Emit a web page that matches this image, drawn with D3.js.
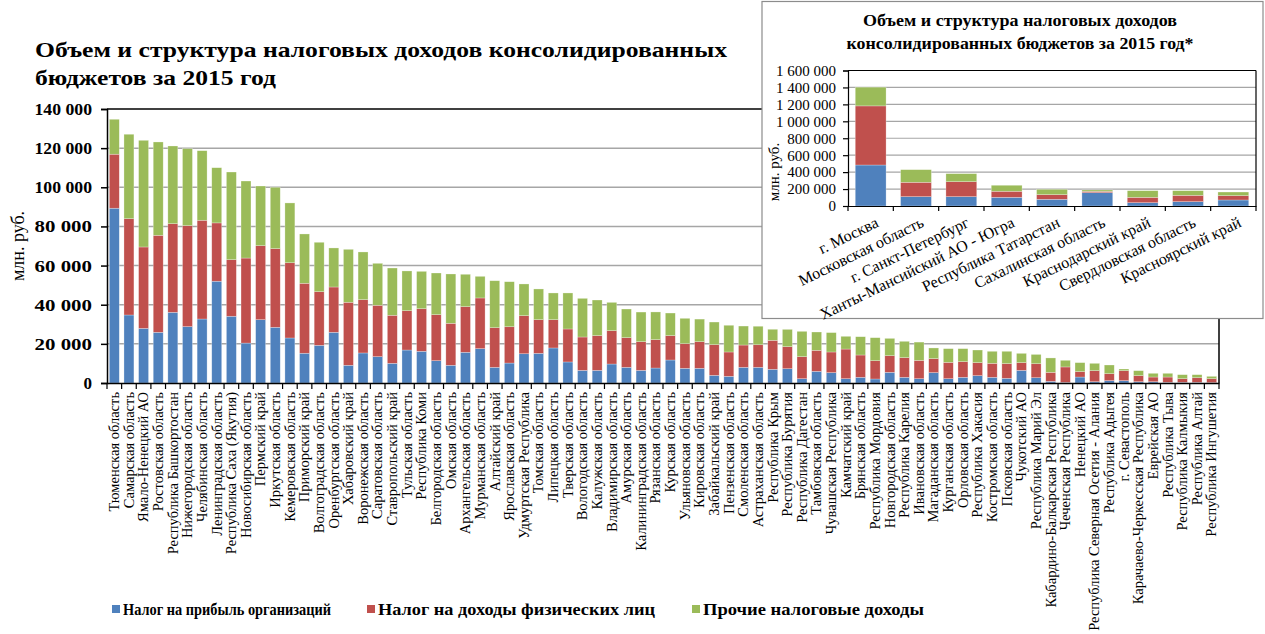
<!DOCTYPE html>
<html>
<head>
<meta charset="utf-8">
<script src="https://cdn.jsdelivr.net/npm/d3@7/dist/d3.min.js"></script>
<style>
  html, body { margin: 0; padding: 0; background: #fff; }
  svg { display: block; }
</style>
</head>
<body>
<svg id="chart" width="1265" height="634"></svg>
<script>
// ---------- Main chart data (млн. руб.) ----------
const categories = [
  "Тюменская область","Самарская область","Ямало-Ненецкий АО","Ростовская область",
  "Республика Башкортостан","Нижегородская область","Челябинская область","Ленинградская область",
  "Республика Саха (Якутия)","Новосибирская область","Пермский край","Иркутская область",
  "Кемеровская область","Приморский край","Волгоградская область","Оренбургская область",
  "Хабаровский край","Воронежская область","Саратовская область","Ставропольский край",
  "Тульская область","Республика Коми","Белгородская область","Омская область",
  "Архангельская область","Мурманская область","Алтайский край","Ярославская область",
  "Удмуртская Республика","Томская область","Липецкая область","Тверская область",
  "Вологодская область","Калужская область","Владимирская область","Амурская область",
  "Калининградская область","Рязанская область","Курская область","Ульяновская область",
  "Кировская область","Забайкальский край","Пензенская область","Смоленская область",
  "Астраханская область","Республика Крым","Республика Бурятия","Республика Дагестан",
  "Тамбовская область","Чувашская Республика","Камчатский край","Брянская область",
  "Республика Мордовия","Новгородская область","Республика Карелия","Ивановская область",
  "Магаданская область","Курганская область","Орловская область","Республика  Хакасия",
  "Костромская область","Псковская область","Чукотский АО","Республика Марий Эл",
  "Кабардино-Балкарская Республика","Чеченская Республика","Ненецкий АО",
  "Республика Северная  Осетия - Алания","Республика Адыгея","г. Севастополь",
  "Карачаево-Черкесская Республика","Еврейская АО","Республика Тыва","Республика Калмыкия",
  "Республика Алтай","Республика Ингушетия"
];
const profitTax = [
  89300,34750,27900,25900,36100,28800,32700,52000,34100,20400,32350,28450,
  23000,15200,19250,25900,9050,15350,13450,10050,16850,16200,11400,9050,
  15700,17550,8000,10200,14950,15150,17900,10750,6450,6450,9700,8000,
  6450,7650,11750,7500,7500,3900,3400,8000,8000,7000,7300,2200,
  5950,5300,2200,2900,2050,5450,2900,2200,5300,2200,2900,3750,
  2900,2400,6450,2700,850,300,3050,650,1200,1200,650,650,350,350,350,200
];
const incomeTax = [
  27600,49200,41600,49550,45300,51600,50450,29800,28900,43450,37800,40200,
  38450,35750,27400,23150,32200,27250,26250,24550,20100,21750,23500,21450,
  23300,25900,20250,18550,19450,17200,14450,16850,17050,17750,17050,15150,
  14650,14500,12450,12600,13600,15700,12450,11400,11550,14800,11250,11250,
  10750,10550,15150,11400,9350,8500,10050,9350,7150,8350,8000,6650,
  7150,7500,3950,7150,4600,7900,2750,5650,3550,5100,3100,2400,2700,1850,2350,2000
];
const otherTax = [
  17850,43150,54500,47700,39700,39350,35550,28200,44800,39350,30500,31350,
  30550,25200,25250,19950,27050,24350,21450,24150,20300,19100,21300,25200,
  16550,11050,24000,23000,16200,15700,13650,18400,19750,18200,14450,14650,
  15150,14150,11550,12950,11550,11550,13650,9700,9450,5650,8850,12950,
  9350,9900,6500,9350,11750,8850,8350,9350,5450,7000,6650,6450,
  6150,6300,4750,4750,7350,3400,4600,3750,4450,850,2550,1900,1900,2050,1550,1200
];
const yTicks = [0,20000,40000,60000,80000,100000,120000,140000];
const seriesNames = ["Налог на прибыль организаций","Налог на доходы физических лиц","Прочие налоговые доходы"];
const seriesColors = ["#4F81BD","#C0504D","#9BBB59"];

// ---------- Inset data ----------
const insetCategories = [
  "г. Москва","Московская область","г. Санкт-Петербург","Ханты-Мансийский АО - Югра",
  "Республика Татарстан","Сахалинская область","Краснодарский край","Свердловская область",
  "Красноярский край"
];
const insetProfit = [484000,110000,110000,102000,79000,157000,39000,51000,71000];
const insetIncome = [698000,170000,177000,72000,55000,16000,63000,75000,51000];
const insetOther  = [221000,149000,95000,71000,63000,16000,79000,55000,43000];
const insetTicks = [0,200000,400000,600000,800000,1000000,1200000,1400000,1600000];

// ---------- Helpers ----------
const SERIF = "'Liberation Serif', Tinos, 'Times New Roman', 'DejaVu Serif', 'Noto Serif', serif";
const fmt = v => d3.format(",")(v).replace(/,/g, "\u00A0");
const svg = d3.select("#chart").style("font-family", SERIF);
svg.append("rect").attr("width",1265).attr("height",634).attr("fill","#fff");

function stackRows(cats, a, b, c) {
  return cats.map((k,i)=>({key:k, s0:a[i], s1:b[i], s2:c[i]}));
}
const stack = d3.stack().keys(["s0","s1","s2"]);

// ---------- Main chart ----------
const M = {left:107, right:1219, top:109, bottom:383};
const x = d3.scaleBand().domain(categories).range([M.left, M.right]).paddingInner(0.32).paddingOuter(0.16);
const y = d3.scaleLinear().domain([0,140000]).range([M.bottom, M.top]);

const main = svg.append("g");
main.append("g").selectAll("line").data(yTicks.filter(t=>t>0 && t<140000)).join("line")
  .attr("x1",M.left).attr("x2",M.right)
  .attr("y1",d=>y(d)).attr("y2",d=>y(d))
  .attr("stroke","#a6a6a6").attr("stroke-width",1.5);

const mainStack = stack(stackRows(categories, profitTax, incomeTax, otherTax));
main.append("g").selectAll("g").data(mainStack).join("g")
  .attr("fill",(d,i)=>seriesColors[i])
  .selectAll("rect").data(d=>d).join("rect")
  .attr("x",d=>x(d.data.key)).attr("width",x.bandwidth())
  .attr("y",d=>y(d[1])).attr("height",d=>Math.max(0,y(d[0])-y(d[1])))
  .attr("stroke","#ffffff").attr("stroke-opacity",0.45).attr("stroke-width",0.6);

main.append("line").attr("x1",M.left).attr("x2",M.right).attr("y1",M.top).attr("y2",M.top)
  .attr("stroke","#000").attr("stroke-width",1.5);
main.append("line").attr("x1",M.right).attr("x2",M.right).attr("y1",M.top).attr("y2",M.bottom)
  .attr("stroke","#000").attr("stroke-width",1.5);

const yAxis = main.append("g").attr("transform",`translate(${M.left},0)`)
  .call(d3.axisLeft(y).tickValues(yTicks).tickSize(6).tickPadding(9).tickFormat(fmt));
yAxis.style("font-family", SERIF);
yAxis.selectAll("path, line").attr("stroke","#000").attr("stroke-width",1.5);
yAxis.selectAll("text").attr("font-weight","bold").attr("font-size",17).attr("fill","#000")
  .attr("textLength",d=>d===0?null:57.5).attr("lengthAdjust","spacingAndGlyphs");

const xAxis = main.append("g").attr("transform",`translate(0,${M.bottom})`)
  .call(d3.axisBottom(x).tickSize(0).tickSizeOuter(0));
xAxis.style("font-family", SERIF);
xAxis.select("path").attr("stroke","#000").attr("stroke-width",1.5);
xAxis.selectAll("text")
  .attr("transform","rotate(-90)").attr("x",-9).attr("y",0).attr("dy","0.33em")
  .attr("text-anchor","end").attr("font-size",14.5).attr("fill","#000");
const step = x.step();
xAxis.append("g").selectAll("line").data(d3.range(categories.length+1)).join("line")
  .attr("x1",i=>M.left + i*step).attr("x2",i=>M.left + i*step)
  .attr("y1",0).attr("y2",6).attr("stroke","#000").attr("stroke-width",1.2);

svg.append("text").attr("transform",`translate(24,246) rotate(-90)`)
  .attr("text-anchor","middle").attr("font-size",18).text("млн. руб.");

const titleLines = ["Объем и структура налоговых доходов консолидированных","бюджетов за 2015 год"];
const titleLens = [692, 241];
svg.append("g").selectAll("text").data(titleLines).join("text")
  .attr("x",35).attr("y",(d,i)=>57+i*28).attr("font-weight","bold").attr("font-size",22)
  .attr("textLength",(d,i)=>titleLens[i]).attr("lengthAdjust","spacingAndGlyphs").text(d=>d);

// legend
const legendX = [112, 367, 692];
const legendLens = [208, 277, 221];
const lg = svg.append("g").selectAll("g").data(seriesNames).join("g")
  .attr("transform",(d,i)=>`translate(${legendX[i]},0)`);
lg.append("rect").attr("x",0).attr("y",605).attr("width",8).attr("height",8)
  .attr("fill",(d,i)=>seriesColors[i]);
lg.append("text").attr("x",11).attr("y",615).attr("font-weight","bold").attr("font-size",16)
  .attr("textLength",(d,i)=>legendLens[i]).attr("lengthAdjust","spacingAndGlyphs").text(d=>d);

// ---------- Inset ----------
const inset = svg.append("g");
inset.append("rect").attr("x",762).attr("y",1.5).attr("width",501).attr("height",317)
  .attr("fill","#fff").attr("stroke","#8c8c8c").attr("stroke-width",1.2);

const I = {left:848, right:1256, top:70.5, bottom:206};
const xi = d3.scaleBand().domain(insetCategories).range([I.left, I.right]).paddingInner(0.32).paddingOuter(0.16);
const yi = d3.scaleLinear().domain([0,1600000]).range([I.bottom, I.top]);

inset.append("g").selectAll("line").data(insetTicks.filter(t=>t>0 && t<1600000)).join("line")
  .attr("x1",I.left).attr("x2",I.right).attr("y1",d=>yi(d)).attr("y2",d=>yi(d))
  .attr("stroke","#a6a6a6").attr("stroke-width",1.2);

const insetStack = stack(stackRows(insetCategories, insetProfit, insetIncome, insetOther));
inset.append("g").selectAll("g").data(insetStack).join("g")
  .attr("fill",(d,i)=>seriesColors[i])
  .selectAll("rect").data(d=>d).join("rect")
  .attr("x",d=>xi(d.data.key)).attr("width",xi.bandwidth())
  .attr("y",d=>yi(d[1])).attr("height",d=>Math.max(0,yi(d[0])-yi(d[1])))
  .attr("stroke","#ffffff").attr("stroke-opacity",0.45).attr("stroke-width",0.6);

inset.append("line").attr("x1",I.left).attr("x2",I.right).attr("y1",I.top).attr("y2",I.top)
  .attr("stroke","#000").attr("stroke-width",1.2);
inset.append("line").attr("x1",I.right).attr("x2",I.right).attr("y1",I.top).attr("y2",I.bottom)
  .attr("stroke","#000").attr("stroke-width",1.2);

const yiAxis = inset.append("g").attr("transform",`translate(${I.left},0)`)
  .call(d3.axisLeft(yi).tickValues(insetTicks).tickSize(5).tickPadding(7).tickFormat(fmt));
yiAxis.style("font-family", SERIF);
yiAxis.selectAll("path, line").attr("stroke","#000").attr("stroke-width",1.2);
yiAxis.selectAll("text").attr("font-size",15).attr("fill","#000");

const xiAxis = inset.append("g").attr("transform",`translate(0,${I.bottom})`)
  .call(d3.axisBottom(xi).tickSize(0).tickSizeOuter(0));
xiAxis.style("font-family", SERIF);
xiAxis.select("path").attr("stroke","#000").attr("stroke-width",1.2);
xiAxis.selectAll("text")
  .attr("transform","translate(4,10) rotate(-26)").attr("x",0).attr("y",0).attr("dy","0.7em")
  .attr("text-anchor","end").attr("font-size",16).attr("fill","#000");
const stepI = xi.step();
xiAxis.append("g").selectAll("line").data(d3.range(insetCategories.length+1)).join("line")
  .attr("x1",i=>I.left + i*stepI).attr("x2",i=>I.left + i*stepI)
  .attr("y1",0).attr("y2",5).attr("stroke","#000").attr("stroke-width",1.2);

inset.append("text").attr("transform","translate(779,172) rotate(-90)")
  .attr("text-anchor","middle").attr("font-size",15).text("млн. руб.");

const insetTitle = ["Объем и структура налоговых доходов","консолидированных бюджетов за 2015 год*"];
const insetTitleLens = [314, 347];
inset.append("g").selectAll("text").data(insetTitle).join("text")
  .attr("x",1020).attr("y",(d,i)=>26+i*23).attr("text-anchor","middle")
  .attr("font-weight","bold").attr("font-size",16)
  .attr("textLength",(d,i)=>insetTitleLens[i]).attr("lengthAdjust","spacingAndGlyphs").text(d=>d);
</script>
</body>
</html>
